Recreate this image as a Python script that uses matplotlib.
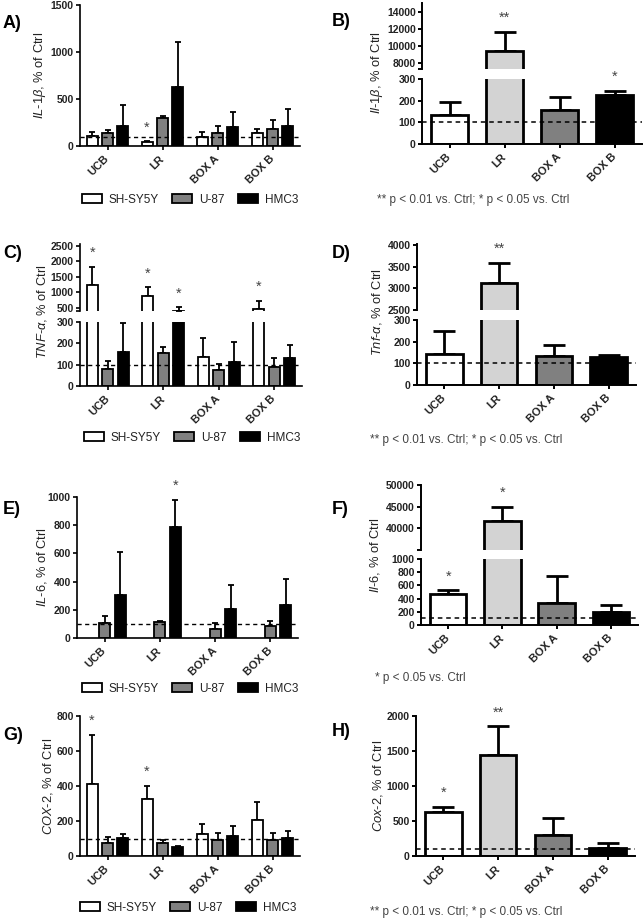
import numpy as np
import matplotlib.pyplot as plt
from matplotlib.patches import Patch

plt.rcParams['font.family'] = ['Liberation Sans', 'DejaVu Sans']
plt.rcParams['mathtext.fontset'] = 'custom'
plt.rcParams['mathtext.rm'] = 'Liberation Sans'
plt.rcParams['mathtext.it'] = 'Liberation Sans:italic'
plt.rcParams['mathtext.bf'] = 'Liberation Sans:bold'

categories = ["UCB", "LR", "BOX A", "BOX B"]
cell_lines = ["SH-SY5Y", "U-87", "HMC3"]
cell_colors = ["white", "#808080", "black"]
brain_colors = ["white", "#d3d3d3", "#808080", "black"]

# rows of the *_cells arrays: SH-SY5Y, U-87, HMC3
# A) IL-1b, cell lines
il1b_cells_mean = [[102, 46, 99, 141], [137, 296, 141, 180], [218, 631, 197, 213]]
il1b_cells_sem = [[46, 4, 49, 45], [32, 28, 70, 100], [215, 479, 162, 181]]
il1b_cells_sig = [["", "*", "", ""], ["", "", "", ""], ["", "", "", ""]]

# B) Il-1b, brain
il1b_brain_mean = [132, 9400, 158, 225]
il1b_brain_sem = [63, 2300, 57, 21]
il1b_brain_sig = ["", "**", "", "*"]

# C) TNF-a, cell lines
tnf_cells_mean = [[1225, 880, 136, 445], [81, 157, 75, 89], [160, 405, 113, 130]]
tnf_cells_sem = [[600, 270, 89, 270], [36, 24, 28, 43], [137, 105, 92, 64]]
tnf_cells_sig = [["*", "*", "", "*"], ["", "", "", ""], ["", "*", "", ""]]

# D) Tnf-a, brain
tnf_brain_mean = [143, 3120, 135, 128]
tnf_brain_sem = [108, 465, 48, 12]
tnf_brain_sig = ["", "**", "", ""]

# E) IL-6, cell lines (no SH-SY5Y bars shown)
il6_cells_mean = [[np.nan] * 4, [107, 114, 67, 83], [306, 784, 204, 235]]
il6_cells_sem = [[np.nan] * 4, [47, 10, 38, 38], [302, 197, 174, 183]]
il6_cells_sig = [["", "", "", ""], ["", "", "", ""], ["", "*", "", ""]]

# F) Il-6, brain
il6_brain_mean = [472, 41600, 340, 193]
il6_brain_sem = [51, 3400, 406, 112]
il6_brain_sig = ["*", "*", "", ""]

# G) COX-2, cell lines
cox2_cells_mean = [[410, 326, 124, 204], [74, 74, 93, 93], [103, 51, 114, 103]]
cox2_cells_sem = [[283, 74, 61, 103], [35, 16, 38, 38], [21, 8, 56, 40]]
cox2_cells_sig = [["*", "*", "", ""], ["", "", "", ""], ["", "", "", ""]]

# H) Cox-2, brain
cox2_brain_mean = [633, 1438, 295, 119]
cox2_brain_sem = [72, 414, 243, 71]
cox2_brain_sig = ["*", "**", "", ""]

W, H = 644, 919
fig = plt.figure(figsize=(W / 100, H / 100), dpi=100)
TXT = '#222222'


def px_axes(l, t, r, b):
    return fig.add_axes([l / W, 1 - b / H, (r - l) / W, (b - t) / H])


def style(ax, lw, ylim, yticks, bottom=True):
    ax.set_xlim(-0.5, 3.5)
    ax.set_ylim(*ylim)
    ax.set_yticks(yticks)
    ax.set_yticklabels([str(v) for v in yticks], fontsize=7.5, fontweight='bold', color=TXT)
    ax.spines['top'].set_visible(False)
    ax.spines['right'].set_visible(False)
    ax.spines['left'].set_linewidth(lw)
    ax.spines['bottom'].set_linewidth(lw)
    ax.tick_params(axis='y', length=3, width=lw, pad=1.5)
    ax.patch.set_alpha(0)
    if bottom:
        ax.set_xticks(range(len(categories)))
        ax.set_xticklabels(categories, rotation=45, ha='right', va='center',
                           rotation_mode='anchor', fontsize=8, fontweight='bold', color=TXT)
        ax.tick_params(axis='x', length=3, width=lw, pad=5)
    else:
        ax.spines['bottom'].set_visible(False)
        ax.tick_params(axis='x', bottom=False, labelbottom=False)
        ax.set_yticks([ylim[0]], minor=True)
        ax.tick_params(axis='y', which='minor', length=3, width=lw)


def bars(axes, x, mean, sem, width, colors, lw, capsize):
    x = np.asarray(x, float)
    mean = np.asarray(mean, float)
    sem = np.asarray(sem, float)
    ok = ~np.isnan(mean)
    fill = list(np.asarray(colors, dtype=object)[ok]) if len(colors) > 1 else colors[0]
    for ax in axes:
        ax.bar(x[ok], mean[ok], width, color=fill, edgecolor='black', linewidth=lw, zorder=2)
        ax.errorbar(x[ok], mean[ok], yerr=[np.zeros(ok.sum()), sem[ok]], fmt='none',
                    ecolor='black', elinewidth=lw, capsize=capsize, capthick=lw, zorder=1)


def stars(ax_lo, ax_hi, x, mean, sem, sig, fs):
    for xi, m, s, lab in zip(x, mean, sem, sig):
        if not lab:
            continue
        top = m + s
        ax = ax_hi if (ax_hi is not None and top > ax_lo.get_ylim()[1]) else ax_lo
        ax.annotate(lab, (xi, top), xytext=(0, 10), textcoords='offset points',
                    ha='center', va='center', fontsize=fs, color='#444444', annotation_clip=False)


def cells_panel(lo_box, lo_lim, lo_ticks, mean, sem, sig, hi_box=None, hi_lim=None, hi_ticks=None):
    ax_lo = px_axes(*lo_box)
    ax_hi = px_axes(*hi_box) if hi_box else None
    axes = [ax_lo] + ([ax_hi] if ax_hi else [])
    style(ax_lo, 1.2, lo_lim, lo_ticks)
    if ax_hi:
        style(ax_hi, 1.2, hi_lim, hi_ticks, bottom=False)
    pos = np.arange(len(categories))
    for i, line in enumerate(cell_lines):
        x = pos + (i - 1) * 0.28
        bars(axes, x, mean[i], sem[i], 0.2, [cell_colors[i]], 1.3, 2.3)
        stars(ax_lo, ax_hi, x, mean[i], sem[i], sig[i], 10.5)
    ax_lo.axhline(100, color='black', lw=1.0, ls=(0, (3, 2.5)), zorder=3)
    return ax_lo


def brain_panel(lo_box, lo_lim, lo_ticks, mean, sem, sig, hi_box=None, hi_lim=None, hi_ticks=None):
    ax_lo = px_axes(*lo_box)
    ax_hi = px_axes(*hi_box) if hi_box else None
    axes = [ax_lo] + ([ax_hi] if ax_hi else [])
    style(ax_lo, 1.4, lo_lim, lo_ticks)
    if ax_hi:
        style(ax_hi, 1.4, hi_lim, hi_ticks, bottom=False)
    pos = np.arange(len(categories))
    bars(axes, pos, mean, sem, 0.67, brain_colors, 2.0, 8)
    stars(ax_lo, ax_hi, pos, mean, sem, sig, 10.5)
    ax_lo.axhline(100, color='black', lw=1.1, ls=(0, (3, 2.5)), zorder=3)
    return ax_lo


def legend(cx, cy):
    handles = [Patch(facecolor=c, edgecolor='black', linewidth=1.3) for c in cell_colors]
    fig.legend(handles, cell_lines, loc='center', bbox_to_anchor=(cx / W, 1 - cy / H), ncol=3,
               frameon=False, fontsize=8.5, handlelength=1.7, handleheight=0.8,
               handletextpad=0.6, columnspacing=1.1, labelcolor=TXT)


def ylabel(x, y, text):
    fig.text(x / W, 1 - y / H, text, rotation=90, ha='center', va='center', fontsize=9.3, color=TXT)


def tag(x, y, text):
    fig.text(x / W, 1 - y / H, text, ha='left', va='center', fontsize=13, fontweight='bold')


def note(x, y, text):
    fig.text(x / W, 1 - y / H, text, ha='left', va='center', fontsize=8.5, color='#444444')


note_both = "** p < 0.01 vs. Ctrl; * p < 0.05 vs. Ctrl"

# A
cells_panel((80, 5, 300, 146), (0, 1500), [0, 500, 1000, 1500],
            il1b_cells_mean, il1b_cells_sem, il1b_cells_sig)
legend(190, 200)
ylabel(40, 75, r"$\mathit{IL}$-$\mathit{1β}$, % of Ctrl")
tag(3, 23, "A)")

# B
brain_panel((422, 79, 642, 144), (0, 300), [0, 100, 200, 300],
            il1b_brain_mean, il1b_brain_sem, il1b_brain_sig,
            (422, 3, 642, 69), (7330, 15060), [8000, 10000, 12000, 14000])
ylabel(377, 73, r"$\mathit{Il}$-$\mathit{1β}$, % of Ctrl")
note(377, 200, note_both)
tag(332, 22, "B)")

# C
cells_panel((80, 322, 302, 386), (0, 300), [0, 100, 200, 300],
            tnf_cells_mean, tnf_cells_sem, tnf_cells_sig,
            (80, 244, 302, 311), (390, 2555), [500, 1000, 1500, 2000, 2500])
legend(192, 438)
ylabel(42, 312, r"$\mathit{TNF}$-$\mathit{α}$, % of Ctrl")
tag(3, 254, "C)")

# D
brain_panel((417, 320, 636, 385), (0, 300), [0, 100, 200, 300],
            tnf_brain_mean, tnf_brain_sem, tnf_brain_sig,
            (417, 244, 636, 310), (2500, 4020), [2500, 3000, 3500, 4000])
ylabel(377, 312, r"$\mathit{Tnf}$-$\mathit{α}$, % of Ctrl")
note(370, 440, note_both)
tag(332, 253, "D)")

# E
cells_panel((77, 497, 298, 638), (0, 1000), [0, 200, 400, 600, 800, 1000],
            il6_cells_mean, il6_cells_sem, il6_cells_sig)
legend(190, 689)
ylabel(42, 567, r"$\mathit{IL}$-$\mathit{6}$, % of Ctrl")
tag(3, 510, "E)")

# F
brain_panel((421, 559, 638, 625), (0, 1000), [0, 200, 400, 600, 800, 1000],
            il6_brain_mean, il6_brain_sem, il6_brain_sig,
            (421, 485, 638, 550), (35000, 50000), [40000, 45000, 50000])
ylabel(375, 555, r"$\mathit{Il}$-$\mathit{6}$, % of Ctrl")
note(375, 678, "* p < 0.05 vs. Ctrl")
tag(332, 509, "F)")

# G
cells_panel((80, 716, 300, 856), (0, 800), [0, 200, 400, 600, 800],
            cox2_cells_mean, cox2_cells_sem, cox2_cells_sig)
legend(188, 908)
ylabel(48, 786, r"$\mathit{COX}$-$\mathit{2}$, % of Ctrl")
tag(3, 736, "G)")

# H
brain_panel((416, 716, 635, 856), (0, 2000), [0, 500, 1000, 1500, 2000],
            cox2_brain_mean, cox2_brain_sem, cox2_brain_sig)
ylabel(378, 786, r"$\mathit{Cox}$-$\mathit{2}$, % of Ctrl")
note(370, 912, note_both)
tag(332, 731, "H)")

fig.savefig("out.png", dpi=100)
